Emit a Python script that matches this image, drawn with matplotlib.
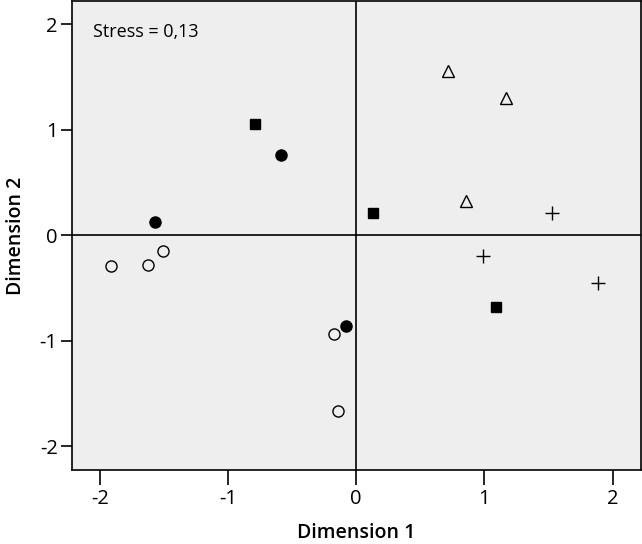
import matplotlib
matplotlib.use("Agg")
import matplotlib.pyplot as plt

plt.rcParams['font.family'] = ['Open Sans', 'DejaVu Sans']
plt.rcParams['axes.unicode_minus'] = False

sq_x = [-0.79, 0.13, 1.09]
sq_y = [1.06, 0.21, -0.68]
fc_x = [-0.59, -1.57, -0.08]
fc_y = [0.76, 0.13, -0.86]
oc_x = [-1.91, -1.62, -1.51, -0.17, -0.14]
oc_y = [-0.29, -0.28, -0.15, -0.93, -1.66]
tr_x = [0.72, 1.17, 0.86]
tr_y = [1.56, 1.30, 0.33]
pl_x = [1.53, 0.99, 1.89]
pl_y = [0.21, -0.20, -0.45]

fig = plt.figure(figsize=(6.42, 5.44), dpi=100)
ax = fig.add_axes([0.1115, 0.1366, 0.8865, 0.8614])
ax.set_facecolor('#eeeeee')

ax.axhline(0, color='black', lw=1.2, zorder=1)
ax.axvline(0, color='black', lw=1.2, zorder=1)

ax.plot(sq_x, sq_y, 's', color='black', ms=6.5, ls='none', zorder=3)
ax.plot(fc_x, fc_y, 'o', color='black', ms=8, ls='none', zorder=3)
ax.plot(oc_x, oc_y, 'o', mfc='none', mec='black', mew=1.0, ms=8, ls='none', zorder=3)
ax.plot(tr_x, tr_y, '^', mfc='none', mec='black', mew=1.0, ms=8, ls='none', zorder=3)
ax.plot(pl_x, pl_y, '+', color='black', mew=1.0, ms=10, ls='none', zorder=3)

ax.set_xlim(-2.22, 2.22)
ax.set_ylim(-2.22, 2.22)
ax.set_xticks([-2, -1, 0, 1, 2])
ax.set_yticks([-2, -1, 0, 1, 2])
ax.tick_params(direction='out', width=1.2, labelsize=14.5, color='black')
ax.tick_params(axis='x', length=11, pad=3)
ax.tick_params(axis='y', length=8, pad=2)
for s in ax.spines.values():
    s.set_linewidth(1.2)
ax.set_xlabel('Dimension 1', fontsize=14, fontweight='semibold', labelpad=10)
ax.set_ylabel('Dimension 2', fontsize=14, fontweight='semibold', labelpad=10)
ax.text(0.037, 0.935, 'Stress = 0,13', transform=ax.transAxes, fontsize=13, va='center', ha='left')

fig.savefig('out.png', dpi=100)
